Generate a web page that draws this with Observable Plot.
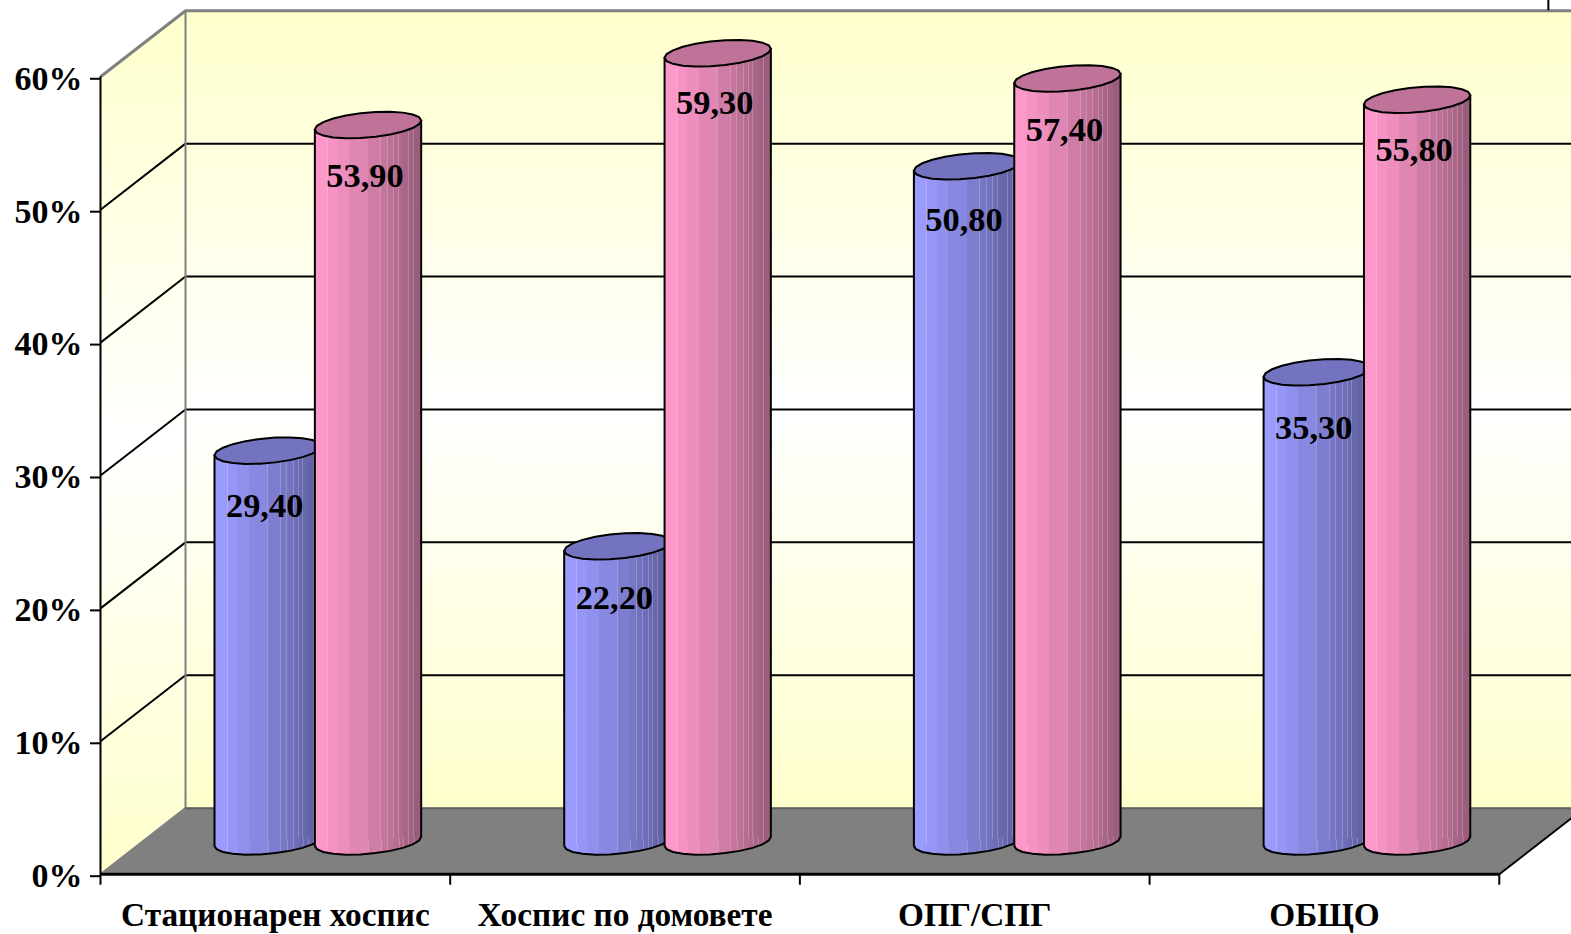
<!DOCTYPE html>
<html><head><meta charset="utf-8">
<style>html,body{margin:0;padding:0;background:#fff}svg{display:block}</style>
<script src="https://cdn.jsdelivr.net/npm/d3@7"></script>
<script src="https://cdn.jsdelivr.net/npm/@observablehq/plot@0.6"></script>
</head><body><div id="chart"></div>
<script>
const categories = ["Стационарен хоспис", "Хоспис по домовете", "ОПГ/СПГ", "ОБЩО"];
const blueValues = [29.4, 22.2, 50.8, 35.3];
const pinkValues = [53.9, 59.3, 57.4, 55.8];
const blueLabelDrop = [4.16, 3.88, 4.06, 4.19];
const pinkLabelDrop = [3.85, 3.73, 3.89, 3.79];
const yTicks = [0, 10, 20, 30, 40, 50, 60];
const xTicks = [0, 1, 2, 3, 4];

// Scale geometry (data units: 1 category = 1 x unit, 1% = 1 y unit)
const xDomain = [-0.28596, 4.2065], yDomain = [-4.537, 65.74];
const depthX = 0.2431, depthY = 4.97;
const baseY = 2.47, shear = 0.34, halfW = 0.152;
const FONT = "Liberation Serif";

function bars(values, drops, center) {
  return values.map((v, i) => ({i, v, cx: i + center, left: i + center - halfW, right: i + center + halfW,
    label: v.toFixed(2).replace(".", ","), top: v + baseY, labelY: v + baseY - drops[i]}));
}
const blue = bars(blueValues, blueLabelDrop, 0.478), pink = bars(pinkValues, pinkLabelDrop, 0.765);

// A slanted, slightly faceted disc seen from above
const disc = {draw(ctx, size) {
  const a = Math.sqrt(size / Math.PI), b = a * 0.235, s = a * 0.085, n = 22;
  for (let k = 0; k < n; ++k) {
    const t = 2 * Math.PI * k / n, x = a * Math.cos(t), y = b * Math.sin(t) - s * Math.cos(t);
    k ? ctx.lineTo(x, y) : ctx.moveTo(x, y);
  }
  ctx.closePath();
}};

function cylinder(d, grad, topFill) {
  const body = [
    {x: d.left, y1: baseY - shear, y2: d.top - shear},
    {x: d.right, y1: baseY + shear, y2: d.top + shear}
  ];
  return [
    Plot.dot([d], {x: "cx", y: baseY, r: 53.2, symbol: disc, fill: `url(#${grad})`, stroke: "black", strokeWidth: 2}),
    Plot.areaY(body, {x: "x", y1: "y1", y2: "y2", fill: `url(#${grad})`}),
    Plot.ruleX([d], {x: "left", y1: baseY - shear, y2: d.top - shear, stroke: "black", strokeWidth: 2}),
    Plot.ruleX([d], {x: "right", y1: baseY + shear, y2: d.top + shear, stroke: "black", strokeWidth: 2}),
    Plot.dot([d], {x: "cx", y: "top", r: 53.2, symbol: disc, fill: topFill, stroke: "black", strokeWidth: 2}),
  ];
}
function labels(data) {
  return Plot.text(data, {x: "cx", y: "labelY", text: "label", dx: -3, fontFamily: FONT, fontWeight: "bold", fontSize: 34.4, fill: "black"});
}

const sideWall = [{x: 0, lo: 0, hi: 60}, {x: depthX, lo: depthY, hi: 60 + depthY}];
const floor = [{x: 0, lo: 0, hi: 0}, {x: depthX, lo: 0, hi: depthY}, {x: 4, lo: 0, hi: depthY}, {x: 4 + depthX, lo: depthY, hi: depthY}];

const plot = Plot.plot({
  width: 1571, height: 934, margin: 0,
  x: {domain: xDomain}, y: {domain: yDomain},
  style: {background: "white"},
  marks: [
    Plot.rect([0], {x1: depthX, x2: xDomain[1], y1: depthY, y2: 60 + depthY, fill: "url(#wall)"}),
    Plot.areaY(sideWall, {x: "x", y1: "lo", y2: "hi", fill: "url(#wall)"}),
    Plot.areaY(floor, {x: "x", y1: "lo", y2: "hi", fill: "#808080"}),
    Plot.ruleY(yTicks.slice(1, -1), {y: d => d + depthY, x1: depthX, x2: xDomain[1], stroke: "black", strokeWidth: 2}),
    Plot.link(yTicks.slice(1, -1), {x1: 0, y1: d => d, x2: depthX, y2: d => d + depthY, stroke: "black", strokeWidth: 2}),
    Plot.ruleX([depthX], {y1: depthY, y2: 60 + depthY, stroke: "#808080", strokeWidth: 2}),
    Plot.ruleY([60 + depthY], {x1: depthX, x2: xDomain[1], stroke: "#808080", strokeWidth: 3}),
    Plot.link([0], {x1: 0, y1: 60, x2: depthX, y2: 60 + depthY, stroke: "#808080", strokeWidth: 3}),
    Plot.link([0], {x1: 0, y1: 0, x2: depthX, y2: depthY, stroke: "#808080", strokeWidth: 2}),
    Plot.ruleY([depthY], {x1: depthX, x2: xDomain[1], stroke: "#5f5f5f", strokeWidth: 2}),
    Plot.link([0], {x1: 4, y1: 0, x2: 4 + depthX, y2: depthY, stroke: "black", strokeWidth: 2}),
    Plot.ruleX([4.1403], {y1: 60 + depthY, y2: yDomain[1], stroke: "black", strokeWidth: 2}),
    Plot.ruleX([0], {y1: 0, y2: 60, stroke: "black", strokeWidth: 2}),
    Plot.ruleY([0], {x1: 0, x2: 4, stroke: "black", strokeWidth: 3}),
    Plot.axisY(yTicks, {x: 0, anchor: "left", tickSize: 10, tickPadding: 8, dy: 2, strokeWidth: 2, stroke: "black", tickFormat: d => d + "%", label: null,
      fontFamily: FONT, fontWeight: "bold", fontSize: 34, fill: "black"}),
    Plot.axisX(xTicks, {y: 0, anchor: "bottom", tickSize: 11, strokeWidth: 2, stroke: "black", tickFormat: () => "", label: null}),
    Plot.axisX(categories.map((c, i) => i + 0.5), {y: 0, anchor: "bottom", tickSize: 0, tickPadding: 28, tickFormat: d => categories[d - 0.5], label: null,
      fontFamily: FONT, fontWeight: "bold", fontSize: 33.3, fill: "black"}),
    d3.range(categories.length).map(i => [
      cylinder(blue[i], "bluebar", "#7373BF"),
      cylinder(pink[i], "pinkbar", "#BF7399")
    ]),
    labels(blue),
    labels(pink),
  ]
});

// gradient definitions: stepped vertical bands with thin light seams
const bandEdges = [0, .12, .22, .33, .5, .62, .68, .74, .79, .83, .88, .93, 1];
function bandStops(c0, c1) {
  const mix = d3.interpolateRgb(c0, c1);
  let out = "";
  bandEdges.slice(0, -1).forEach((e, k) => {
    const end = bandEdges[k + 1], t = Math.pow((e + end) / 2, 1.35), c = d3.color(mix(t)).formatHex();
    const seam = (k === 1 || k === 4 || k >= 5) ? d3.color(d3.interpolateRgb(c, "white")(0.22)).formatHex() : c;
    out += `<stop offset="${e}" stop-color="${seam}"/><stop offset="${e + .008}" stop-color="${seam}"/><stop offset="${e + .008}" stop-color="${c}"/><stop offset="${end}" stop-color="${c}"/>`;
  });
  return out;
}
plot.insertAdjacentHTML("afterbegin", `<defs>
<linearGradient id="wall" x1="0" y1="0" x2="0" y2="1"><stop offset="0" stop-color="#FFFFCC"/><stop offset="0.5" stop-color="#FFFFFF"/><stop offset="1" stop-color="#FFFFCC"/></linearGradient>
<linearGradient id="bluebar" x1="0" y1="0" x2="1" y2="0">${bandStops("#9C9CFF", "#5A5A99")}</linearGradient>
<linearGradient id="pinkbar" x1="0" y1="0" x2="1" y2="0">${bandStops("#FF99CC", "#965A78")}</linearGradient>
</defs>`);
document.getElementById("chart").append(plot);
</script></body></html>
